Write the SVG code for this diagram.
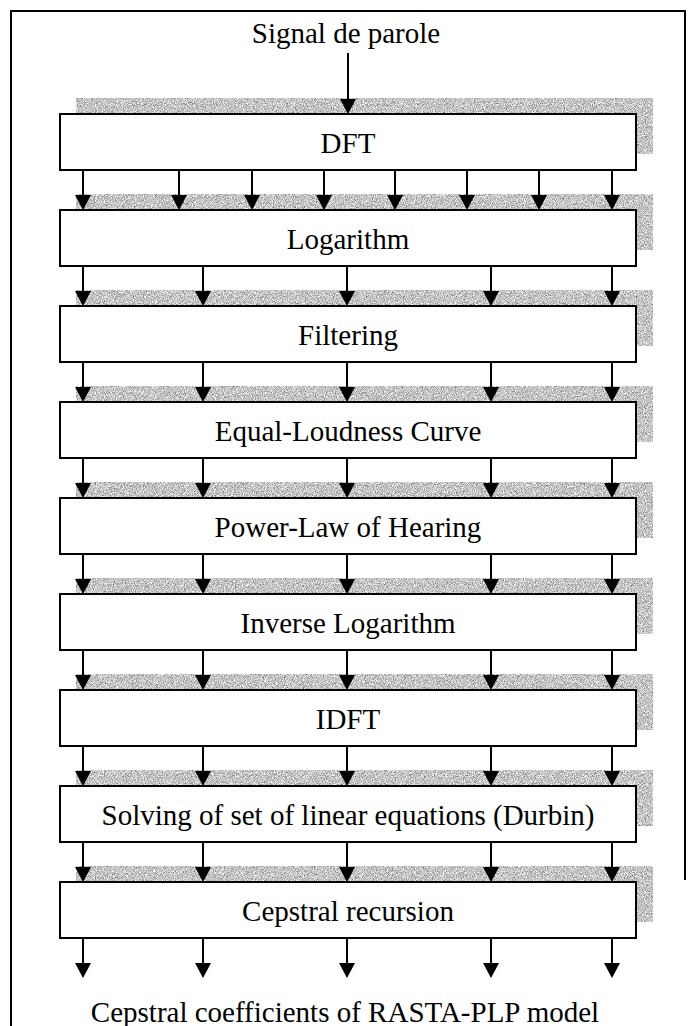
<svg xmlns="http://www.w3.org/2000/svg" width="693" height="1026" viewBox="0 0 693 1026">
<style>
.box{fill:#fff;stroke:#000;stroke-width:2}
.sh{fill:#b4b4b4;filter:url(#grain)}
.lbl{font-family:"Liberation Serif","Times New Roman",serif;font-size:29px;text-anchor:middle;fill:#000}
.ln{stroke:#000;stroke-width:2;fill:none}
</style>
<defs>
<filter id="grain" x="0" y="0" width="100%" height="100%" color-interpolation-filters="sRGB">
<feTurbulence type="fractalNoise" baseFrequency="1.1" numOctaves="2" seed="5" result="t"/>
<feColorMatrix in="t" type="matrix" values="0.33 0.33 0.33 0 0 0.33 0.33 0.33 0 0 0.33 0.33 0.33 0 0 0 0 0 0 1" result="g"/>
<feComponentTransfer in="g" result="c">
<feFuncR type="linear" slope="1.7" intercept="-0.07"/>
<feFuncG type="linear" slope="1.7" intercept="-0.07"/>
<feFuncB type="linear" slope="1.7" intercept="-0.07"/>
</feComponentTransfer>
<feComposite in="c" in2="SourceGraphic" operator="in"/>
</filter>
<path id="ah" d="M-8,-15 L8,-15 L0,0 Z" fill="#000"/>
</defs>
<rect width="693" height="1026" fill="#fff"/>
<path d="M11,1026 V11 H685 V880" class="ln"/>
<text class="lbl" x="346" y="43">Signal de parole</text>

<g id="shadows">
<rect class="sh" x="76" y="98" width="577" height="56"/>
<rect class="sh" x="76" y="194" width="577" height="56"/>
<rect class="sh" x="76" y="290" width="577" height="56"/>
<rect class="sh" x="76" y="386" width="577" height="56"/>
<rect class="sh" x="76" y="482" width="577" height="56"/>
<rect class="sh" x="76" y="578" width="577" height="56"/>
<rect class="sh" x="76" y="674" width="577" height="56"/>
<rect class="sh" x="76" y="770" width="577" height="56"/>
<rect class="sh" x="76" y="866" width="577" height="56"/>
</g>

<g id="n1"><rect class="box" x="60" y="114" width="576" height="56"/><text class="lbl" x="348" y="153">DFT</text></g>
<g id="n2"><rect class="box" x="60" y="210" width="576" height="56"/><text class="lbl" x="348" y="249">Logarithm</text></g>
<g id="n3"><rect class="box" x="60" y="306" width="576" height="56"/><text class="lbl" x="348" y="345">Filtering</text></g>
<g id="n4"><rect class="box" x="60" y="402" width="576" height="56"/><text class="lbl" x="348" y="441">Equal-Loudness Curve</text></g>
<g id="n5"><rect class="box" x="60" y="498" width="576" height="56"/><text class="lbl" x="348" y="537">Power-Law of Hearing</text></g>
<g id="n6"><rect class="box" x="60" y="594" width="576" height="56"/><text class="lbl" x="348" y="633">Inverse Logarithm</text></g>
<g id="n7"><rect class="box" x="60" y="690" width="576" height="56"/><text class="lbl" x="348" y="729">IDFT</text></g>
<g id="n8"><rect class="box" x="60" y="786" width="576" height="56"/><text class="lbl" x="348" y="825">Solving of set of linear equations (Durbin)</text></g>
<g id="n9"><rect class="box" x="60" y="882" width="576" height="56"/><text class="lbl" x="348" y="921">Cepstral recursion</text></g>

<g id="connectors">
<path class="ln" d="M348,53 V100"/><use href="#ah" x="348" y="114"/>
<path class="ln" d="M83,170 V196 M179,170 V196 M252,170 V196 M324,170 V196 M395,170 V196 M467,170 V196 M539,170 V196 M612,170 V196"/>
<use href="#ah" x="83" y="210"/><use href="#ah" x="179" y="210"/><use href="#ah" x="252" y="210"/><use href="#ah" x="324" y="210"/><use href="#ah" x="395" y="210"/><use href="#ah" x="467" y="210"/><use href="#ah" x="539" y="210"/><use href="#ah" x="612" y="210"/>
<g id="r2">
<path class="ln" d="M83,266 V292 M203,266 V292 M347,266 V292 M491,266 V292 M612,266 V292"/>
<use href="#ah" x="83" y="306"/><use href="#ah" x="203" y="306"/><use href="#ah" x="347" y="306"/><use href="#ah" x="491" y="306"/><use href="#ah" x="612" y="306"/>
</g>
<use href="#r2" y="96"/>
<use href="#r2" y="192"/>
<use href="#r2" y="288"/>
<use href="#r2" y="384"/>
<use href="#r2" y="480"/>
<use href="#r2" y="576"/>
<use href="#r2" y="672"/>
</g>

<text class="lbl" x="345" y="1022">Cepstral coefficients of RASTA-PLP model</text>
</svg>
